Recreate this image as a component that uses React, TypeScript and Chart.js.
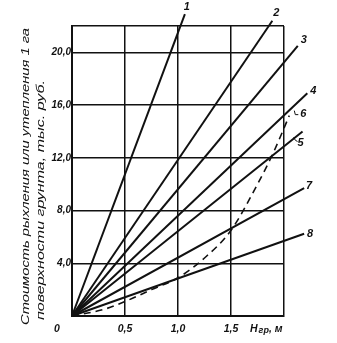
import React, { useEffect, useRef } from "react";
import { Chart, registerables } from "chart.js";

Chart.register(...registerables);

// ---- data ----
const xTicks = [0, 0.5, 1.0, 1.5, 2.0];
const xTickLabels = ["", "0,5", "1,0", "1,5", ""];
const yTicks = [0, 4, 8, 12, 16, 20, 22];
const yTickLabels = ["", "4,0", "8,0", "12,0", "16,0", "20,0", ""];

const lineNames = ["1", "2", "3", "4", "5", "7", "8"];
const lineEndX = [1.065, 1.89, 2.13, 2.22, 2.175, 2.19, 2.19];
const lineEndY = [22.9, 22.4, 20.5, 16.9, 14.0, 9.7, 6.24];

const curveName = "6";
const curveX = [0, 0.3, 0.5, 0.75, 1.0, 1.25, 1.5, 1.75, 1.9, 2.05];
const curveY = [0, 0.5, 1.1, 2.0, 2.9, 4.4, 6.5, 10.0, 12.4, 15.2];

const yTitle = ["Стоимость рыхления или утепления 1 га", "поверхности грунта, тыс. руб."];
const xOriginLabel = "0";
const xTitleMain = "H";
const xTitleSub = "гр";
const xTitleUnit = ", м";

// ---- style ----
const INK = "#111";
const FAMILY = "'Liberation Sans', Arial, sans-serif";
const labelOffsets: Record<string, [number, number]> = {
  "1": [2, -7],
  "2": [4, -8],
  "3": [6, -6],
  "4": [6, -2],
  "5": [-2, 12],
  "6": [14, -2],
  "7": [5, -2],
  "8": [6, 0],
};
const titleLengths = [297, 240];

export default function App() {
  const ref = useRef<HTMLCanvasElement | null>(null);

  useEffect(() => {
    document.body.style.margin = "0";
    const canvas = ref.current;
    if (!canvas) return;

    const datasets: any[] = lineNames.map((name, i) => ({
      label: name,
      data: [
        { x: 0, y: 0 },
        { x: lineEndX[i], y: lineEndY[i] },
      ],
      borderColor: INK,
      borderWidth: 2,
      pointRadius: 0,
      clip: false,
      tension: 0,
    }));
    datasets.push({
      label: curveName,
      data: curveX.map((x, i) => ({ x, y: curveY[i] })),
      borderColor: INK,
      borderWidth: 1.6,
      borderDash: [7, 5],
      pointRadius: 0,
      clip: false,
      cubicInterpolationMode: "monotone",
    });

    const textPlugin = {
      id: "texts",
      afterDatasetsDraw(chart: any) {
        const ctx = chart.ctx as CanvasRenderingContext2D;
        const xs = chart.scales.x;
        const ys = chart.scales.y;
        ctx.save();
        ctx.fillStyle = INK;
        ctx.strokeStyle = INK;
        ctx.font = `italic bold 11px ${FAMILY}`;
        ctx.textAlign = "center";
        ctx.textBaseline = "middle";
        // line labels
        chart.data.datasets.forEach((ds: any) => {
          const last = ds.data[ds.data.length - 1];
          const px = xs.getPixelForValue(last.x);
          const py = ys.getPixelForValue(last.y);
          const off = labelOffsets[ds.label] || [5, 0];
          ctx.fillText(ds.label, px + off[0], py + off[1]);
        });
        // leaders for 6 and 5
        ctx.lineWidth = 1;
        {
          const ds = chart.data.datasets.find((d: any) => d.label === "6");
          const l = ds.data[ds.data.length - 1];
          const px = xs.getPixelForValue(l.x);
          const py = ys.getPixelForValue(l.y);
          ctx.beginPath();
          ctx.moveTo(px + 5, py - 5);
          ctx.lineTo(px + 6, py - 1);
          ctx.lineTo(px + 9, py - 1);
          ctx.stroke();
        }
        {
          const ds = chart.data.datasets.find((d: any) => d.label === "5");
          const l = ds.data[ds.data.length - 1];
          const px = xs.getPixelForValue(l.x);
          const py = ys.getPixelForValue(l.y);
          ctx.beginPath();
          ctx.moveTo(px - 9, py + 6);
          ctx.lineTo(px - 7, py + 9);
          ctx.lineTo(px - 5, py + 10);
          ctx.stroke();
        }
        // x origin label
        ctx.font = `italic bold 10.5px ${FAMILY}`;
        ctx.fillText(xOriginLabel, 57, 329);
        // x title
        ctx.textAlign = "left";
        let x = 250;
        ctx.font = `italic bold 10.5px ${FAMILY}`;
        ctx.fillText(xTitleMain, x, 329);
        x += ctx.measureText(xTitleMain).width + 1;
        ctx.font = `italic bold 9px ${FAMILY}`;
        ctx.fillText(xTitleSub, x, 331);
        x += ctx.measureText(xTitleSub).width;
        ctx.font = `italic bold 10.5px ${FAMILY}`;
        ctx.fillText(xTitleUnit, x, 329);
        // y title: fixed glyph height, stretched along the reading direction
        ctx.font = `italic 11.5px ${FAMILY}`;
        ctx.textAlign = "left";
        const anchors: [number, number][] = [
          [26, 325],
          [41, 320],
        ];
        yTitle.forEach((t, i) => {
          const w = ctx.measureText(t).width;
          ctx.save();
          ctx.translate(anchors[i][0], anchors[i][1]);
          ctx.rotate(-Math.PI / 2);
          ctx.scale(titleLengths[i] / w, 1);
          ctx.fillText(t, 0, 0);
          ctx.restore();
        });
        ctx.restore();
      },
    };

    const tickFont = { family: FAMILY, size: 10, style: "italic" as const, weight: "bold" as const };

    const chart = new Chart(canvas, {
      type: "line",
      data: { datasets },
      options: {
        responsive: false,
        animation: false,
        events: [],
        layout: { padding: { left: 0, right: 53, top: 26, bottom: 0 } },
        plugins: { legend: { display: false }, tooltip: { enabled: false } },
        scales: {
          x: {
            type: "linear",
            min: 0,
            max: 2.0,
            afterBuildTicks: (s: any) => {
              s.ticks = xTicks.map((v) => ({ value: v }));
            },
            afterFit: (s: any) => {
              s.height = 27;
            },
            ticks: {
              color: INK,
              font: { ...tickFont, size: 10.5 },
              padding: 7,
              maxRotation: 0,
              autoSkip: false,
              callback: (v: any) => {
                const i = xTicks.findIndex((t) => Math.abs(t - Number(v)) < 1e-9);
                return i >= 0 ? xTickLabels[i] : "";
              },
            },
            grid: { color: INK, lineWidth: 1.5, drawTicks: false },
            border: { color: INK, width: 2 },
          },
          y: {
            type: "linear",
            min: 0,
            max: 22,
            afterBuildTicks: (s: any) => {
              s.ticks = yTicks.map((v) => ({ value: v }));
            },
            afterFit: (s: any) => {
              s.width = 72;
            },
            ticks: {
              color: INK,
              font: tickFont,
              padding: 1,
              autoSkip: false,
              callback: (v: any) => {
                const i = yTicks.findIndex((t) => Math.abs(t - Number(v)) < 1e-9);
                return i >= 0 ? yTickLabels[i] : "";
              },
            },
            grid: { color: INK, lineWidth: 1.5, drawTicks: false },
            border: { color: INK, width: 2 },
          },
        },
      },
      plugins: [textPlugin],
    });
    return () => chart.destroy();
  }, []);

  return (
    <div style={{ width: 337, height: 343, background: "#fff" }}>
      <canvas ref={ref} width={337} height={343} style={{ display: "block" }} />
    </div>
  );
}
